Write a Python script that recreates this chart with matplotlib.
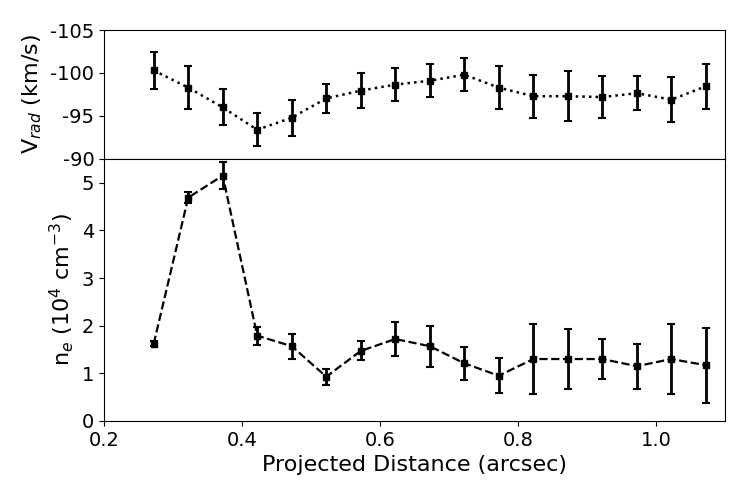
import matplotlib
matplotlib.use("Agg")
import matplotlib.pyplot as plt
import numpy as np

plt.rcParams['axes.unicode_minus'] = False

dist = [0.272, 0.322, 0.372, 0.422, 0.472, 0.522, 0.572, 0.622, 0.672,
        0.722, 0.772, 0.822, 0.872, 0.922, 0.972, 1.022, 1.072]

vrad = [-100.3, -98.3, -96.0, -93.4, -94.8, -97.05, -97.95, -98.65, -99.1,
        -99.8, -98.3, -97.3, -97.3, -97.2, -97.65, -96.9, -98.45]
vrad_err = [2.15, 2.5, 2.1, 1.9, 2.1, 1.7, 2.0, 1.9, 1.9,
            1.9, 2.5, 2.5, 2.9, 2.4, 2.0, 2.6, 2.6]

ne = [1.62, 4.69, 5.15, 1.79, 1.57, 0.93, 1.47, 1.72, 1.57,
      1.21, 0.95, 1.30, 1.30, 1.30, 1.15, 1.30, 1.17]
ne_err = [0.05, 0.12, 0.28, 0.19, 0.26, 0.17, 0.2, 0.36, 0.43,
          0.35, 0.37, 0.73, 0.63, 0.42, 0.47, 0.73, 0.79]

fig = plt.figure(figsize=(7.43, 4.8), dpi=100)
gs = fig.add_gridspec(2, 1, height_ratios=[129, 262], hspace=0,
                      left=0.14, right=0.976, bottom=0.123, top=0.9375)
ax1 = fig.add_subplot(gs[0])
ax2 = fig.add_subplot(gs[1], sharex=ax1)

ax1.errorbar(dist, vrad, yerr=vrad_err, fmt='s', ls=':', color='k',
             ms=4, lw=1.8, elinewidth=2, capsize=3, capthick=1.5)
ax1.set_ylim(-90, -105)
ax1.set_yticks([-105, -100, -95, -90])
ax1.set_ylabel(r'V$_{rad}$ (km/s)', fontsize=16)
ax1.tick_params(labelsize=14)
ax1.tick_params(axis='x', which='both', bottom=False, labelbottom=False)

ax2.errorbar(dist, ne, yerr=ne_err, fmt='s', ls='--', color='k',
             ms=4, lw=1.6, elinewidth=2, capsize=3, capthick=1.5)
ax2.set_ylim(0, 5.5)
ax2.set_yticks([0, 1, 2, 3, 4, 5])
ax2.set_xlim(0.2, 1.1)
ax2.set_xticks([0.2, 0.4, 0.6, 0.8, 1.0])
ax2.set_ylabel(r'n$_e$ (10$^4$ cm$^{-3}$)', fontsize=16)
ax2.set_xlabel('Projected Distance (arcsec)', fontsize=16)
ax2.tick_params(labelsize=14)

fig.savefig('out.png', dpi=100)
